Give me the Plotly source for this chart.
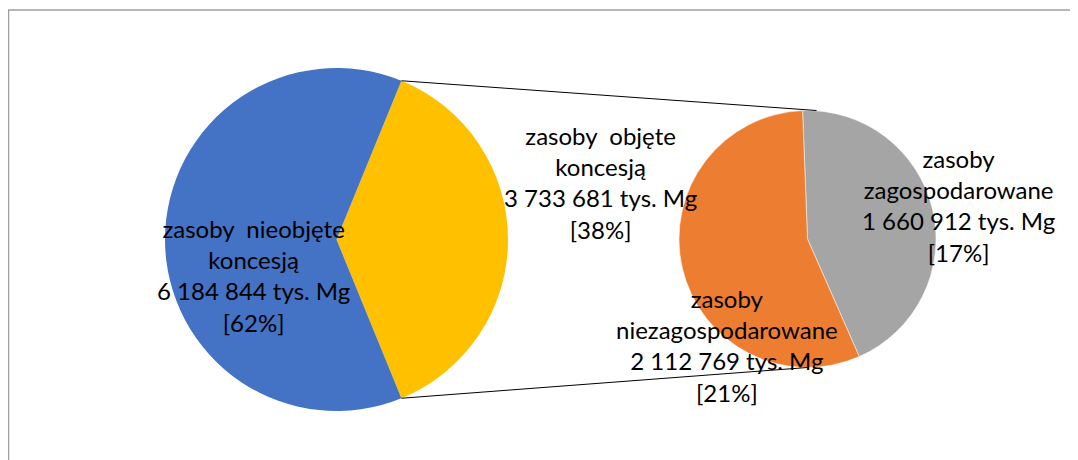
import math
import plotly.graph_objects as go

# dane
main_labels = ["zasoby\u00a0 objęte<br>koncesją", "zasoby\u00a0 nieobjęte<br>koncesją"]
main_values = [3733681, 6184844]
main_colors = ["#FFC000", "#4472C4"]

sub_labels = ["zasoby<br>zagospodarowane", "zasoby<br>niezagospodarowane"]
sub_values = [1660912, 2112769]
sub_colors = ["#A5A5A5", "#ED7D31"]

W, H = 1078, 460
OFF = 8  # margines strony w przeglądarce
total = sum(main_values)


def fmt(v):
    return f"{v:,}".replace(",", " ")


def px(x):
    return (x - OFF) / W


def py(y):
    return 1 - (y - OFF) / H


# geometria kół (piksele)
c1, r1 = (336.5, 239.5), 171.5
c2, r2 = (807.5, 239.0), 128.5
rot1 = 90 - main_values[0] / total * 180
rot2 = -2.2

fig = go.Figure()
fig.add_trace(go.Pie(
    values=main_values, labels=["a", "b"], marker=dict(colors=main_colors, line=dict(width=0)),
    sort=False, direction="clockwise", rotation=rot1, textinfo="none", hoverinfo="none",
    domain=dict(x=[px(c1[0] - r1), px(c1[0] + r1)], y=[py(c1[1] + r1), py(c1[1] - r1)]),
    showlegend=False,
))
fig.add_trace(go.Pie(
    values=sub_values, labels=["c", "d"], marker=dict(colors=sub_colors, line=dict(color="white", width=0.5)),
    sort=False, direction="clockwise", rotation=rot2, textinfo="none", hoverinfo="none",
    domain=dict(x=[px(c2[0] - r2), px(c2[0] + r2)], y=[py(c2[1] + r2), py(c2[1] - r2)]),
    showlegend=False,
))

# linie łączące
a = math.radians(rot1)
p_top = (c1[0] + r1 * math.sin(a), c1[1] - r1 * math.cos(a))
p_bot = (c1[0] + r1 * math.sin(a), c1[1] + r1 * math.cos(a))
shapes = [
    dict(type="line", xref="paper", yref="paper", x0=px(p_top[0]), y0=py(p_top[1]),
         x1=px(c2[0] + 9), y1=py(c2[1] - r2), line=dict(color="black", width=1)),
    dict(type="line", xref="paper", yref="paper", x0=px(p_bot[0]), y0=py(p_bot[1]),
         x1=px(c2[0]), y1=py(c2[1] + r2), line=dict(color="black", width=1)),
    dict(type="rect", xref="paper", yref="paper", x0=px(8.5), y0=py(10), x1=px(1100), y1=py(480),
         line=dict(color="#A0A0A0", width=1.5)),
]

# etykiety
label_pos = [(600, 182), (253, 275), (958, 205), (727, 345)]
texts = []
for lab, v in zip(main_labels + sub_labels, main_values + sub_values):
    texts.append(f"{lab}<br>{fmt(v)} tys. Mg<br>[{round(v / total * 100)}%]")

annotations = [
    dict(x=px(x), y=py(y), xref="paper", yref="paper", text=t, showarrow=False,
         xanchor="center", yanchor="middle", align="center",
         font=dict(family="Lato", size=24, color="black"))
    for t, (x, y) in zip(texts, label_pos)
]

fig.update_layout(
    width=W, height=H, margin=dict(l=0, r=0, t=0, b=0),
    paper_bgcolor="white", plot_bgcolor="white",
    shapes=shapes, annotations=annotations,
)

fig.write_html("out.html")
